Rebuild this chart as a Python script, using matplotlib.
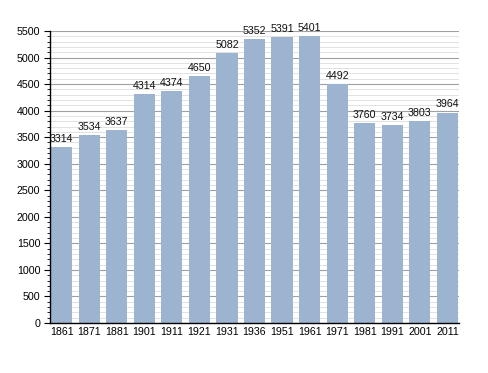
import matplotlib
matplotlib.use("Agg")
import matplotlib.pyplot as plt
from matplotlib.ticker import MultipleLocator

years = ["1861", "1871", "1881", "1901", "1911", "1921", "1931", "1936", "1951", "1961", "1971", "1981", "1991", "2001", "2011"]
population = [3314, 3534, 3637, 4314, 4374, 4650, 5082, 5352, 5391, 5401, 4492, 3760, 3734, 3803, 3964]

plt.rcParams['font.family'] = ['Liberation Sans', 'DejaVu Sans']

fig = plt.figure(figsize=(4.88, 3.73), dpi=100)
ax = fig.add_axes([0.1025, 0.134, 0.838, 0.783])

x = list(range(len(years)))
ax.bar(x, population, width=0.77, color="#9cb4cf", zorder=3)
for xi, v in zip(x, population):
    ax.text(xi, v + 60, str(v), ha="center", va="bottom", fontsize=7.7, color="#111111", zorder=4)

ax.set_xlim(-0.42, len(years) - 1 + 0.42)
ax.set_ylim(0, 5500)
ax.yaxis.set_major_locator(MultipleLocator(500))
ax.yaxis.set_minor_locator(MultipleLocator(100))
ax.grid(axis="y", which="major", color="#a0a0a0", linewidth=0.8, zorder=1)
ax.grid(axis="y", which="minor", color="#dddddd", linewidth=0.6, zorder=0)
ax.set_xticks(x)
ax.set_xticklabels(years)
ax.tick_params(axis="x", length=0, labelsize=7.7, pad=3)
ax.tick_params(axis="y", which="major", length=4, labelsize=7.7, direction="out", pad=3)
ax.tick_params(axis="y", which="minor", length=2, direction="out")
for s in ["top", "right"]:
    ax.spines[s].set_visible(False)
ax.spines["left"].set_linewidth(1.0)
ax.spines["bottom"].set_linewidth(1.0)
ax.spines["left"].set_zorder(5)
ax.spines["bottom"].set_zorder(5)

fig.savefig("out.png", dpi=100)
